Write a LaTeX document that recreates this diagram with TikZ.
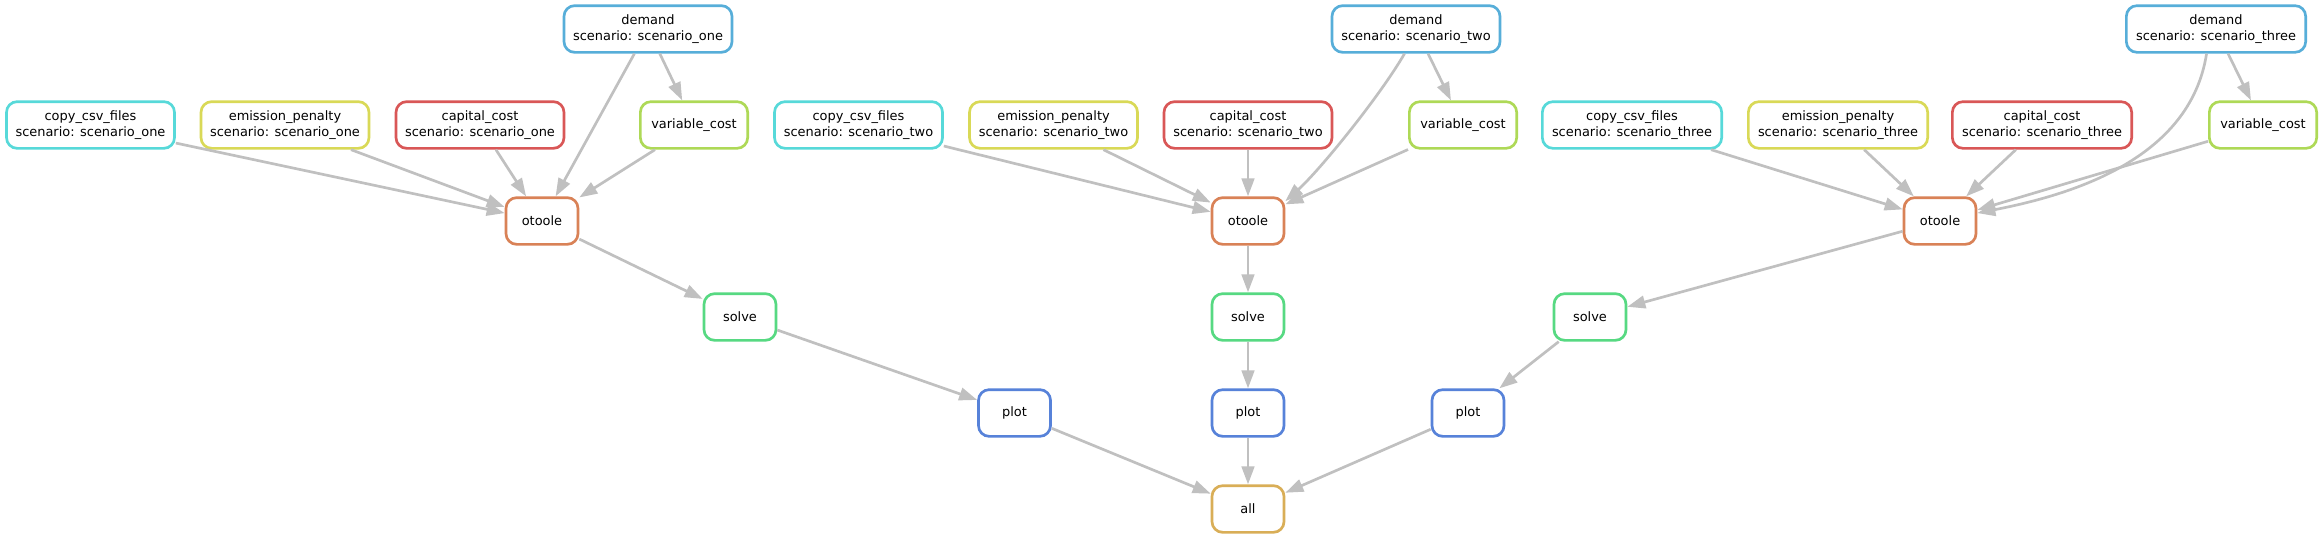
\documentclass[tikz,border=0pt]{standalone}
\usepackage{fontspec}
\setmainfont{DejaVu Sans}
\usetikzlibrary{arrows.meta}
\definecolor{cRed}{HTML}{D95757}
\definecolor{cOrange}{HTML}{D98257}
\definecolor{cGold}{HTML}{D9AE57}
\definecolor{cYellow}{HTML}{D9D957}
\definecolor{cLime}{HTML}{AED957}
\definecolor{cGreen}{HTML}{57D982}
\definecolor{cCyan}{HTML}{57D9D9}
\definecolor{cSky}{HTML}{57AED9}
\definecolor{cBlue}{HTML}{5782D9}
\definecolor{eg}{HTML}{C0C0C0}
\begin{document}
\begin{tikzpicture}[x=0.75pt,y=-0.75pt,
  job/.style={rectangle, rounded corners=8pt, line width=2pt, minimum height=35pt,
    minimum width=54pt, inner sep=0pt, align=center, fill=white,
    font=\fontsize{9.7pt}{11.5pt}\selectfont},
  wide/.style={minimum width=126pt},
  wider/.style={minimum width=134.5pt},
  mid/.style={minimum width=80.5pt},
  dep/.style={draw=eg, line width=2pt, -{Triangle[length=13.5pt,width=9.5pt]}}]
\useasboundingbox (0,0) rectangle (2323,539);
\fill[white] (0,0) rectangle (2323,539);
% scenario one
\node[job, wide, draw=cSky] (d1) at (648,29) {demand\\scenario: scenario\_one};
\node[job, wide, draw=cCyan] (cp1) at (90.5,125) {copy\_csv\_files\\scenario: scenario\_one};
\node[job, wide, draw=cYellow] (em1) at (285,125) {emission\_penalty\\scenario: scenario\_one};
\node[job, wide, draw=cRed] (ca1) at (480,125) {capital\_cost\\scenario: scenario\_one};
\node[job, mid, draw=cLime] (va1) at (694,125) {variable\_cost};
\node[job, draw=cOrange] (o1) at (542,221) {otoole};
\node[job, draw=cGreen] (s1) at (740,317) {solve};
\node[job, draw=cBlue] (p1) at (1014.5,413) {plot};
% scenario two
\node[job, wide, draw=cSky] (d2) at (1416,29) {demand\\scenario: scenario\_two};
\node[job, wide, draw=cCyan] (cp2) at (858.5,125) {copy\_csv\_files\\scenario: scenario\_two};
\node[job, wide, draw=cYellow] (em2) at (1053.5,125) {emission\_penalty\\scenario: scenario\_two};
\node[job, wide, draw=cRed] (ca2) at (1248,125) {capital\_cost\\scenario: scenario\_two};
\node[job, mid, draw=cLime] (va2) at (1463,125) {variable\_cost};
\node[job, draw=cOrange] (o2) at (1248,221) {otoole};
\node[job, draw=cGreen] (s2) at (1248,317) {solve};
\node[job, draw=cBlue] (p2) at (1248,413) {plot};
% scenario three
\node[job, wider, draw=cSky] (d3) at (2216,29) {demand\\scenario: scenario\_three};
\node[job, wider, draw=cCyan] (cp3) at (1632,125) {copy\_csv\_files\\scenario: scenario\_three};
\node[job, wider, draw=cYellow] (em3) at (1838,125) {emission\_penalty\\scenario: scenario\_three};
\node[job, wider, draw=cRed] (ca3) at (2042,125) {capital\_cost\\scenario: scenario\_three};
\node[job, mid, draw=cLime] (va3) at (2263,125) {variable\_cost};
\node[job, draw=cOrange] (o3) at (1940,221) {otoole};
\node[job, draw=cGreen] (s3) at (1590,317) {solve};
\node[job, draw=cBlue] (p3) at (1468,413) {plot};
% all
\node[job, draw=cGold] (al) at (1248,509) {all};
% edges one
\draw[dep] (cp1) -- (o1);
\draw[dep] (em1) -- (o1);
\draw[dep] (ca1) -- (o1);
\draw[dep] (va1) -- (o1);
\draw[dep] (d1) -- (o1);
\draw[dep] (d1) -- (va1);
\draw[dep] (o1) -- (s1);
\draw[dep] (s1) -- (p1);
\draw[dep] (p1) -- (al);
% edges two
\draw[dep] (cp2) -- (o2);
\draw[dep] (em2) -- (o2);
\draw[dep] (ca2) -- (o2);
\draw[dep] (va2) -- (o2);
\draw[dep] (d2.245) .. controls (1380,96) and (1320,170) .. (o2.28);
\draw[dep] (d2) -- (va2);
\draw[dep] (o2) -- (s2);
\draw[dep] (s2) -- (p2);
\draw[dep] (p2) -- (al);
% edges three
\draw[dep] (cp3) -- (o3);
\draw[dep] (em3) -- (o3);
\draw[dep] (ca3) -- (o3);
\draw[dep] (va3) -- (o3);
\draw[dep] (d3.249) .. controls (2190,160) and (2070,195) .. (o3.12);
\draw[dep] (d3) -- (va3);
\draw[dep] (o3) -- (s3);
\draw[dep] (s3) -- (p3);
\draw[dep] (p3) -- (al);
\end{tikzpicture}
\end{document}
